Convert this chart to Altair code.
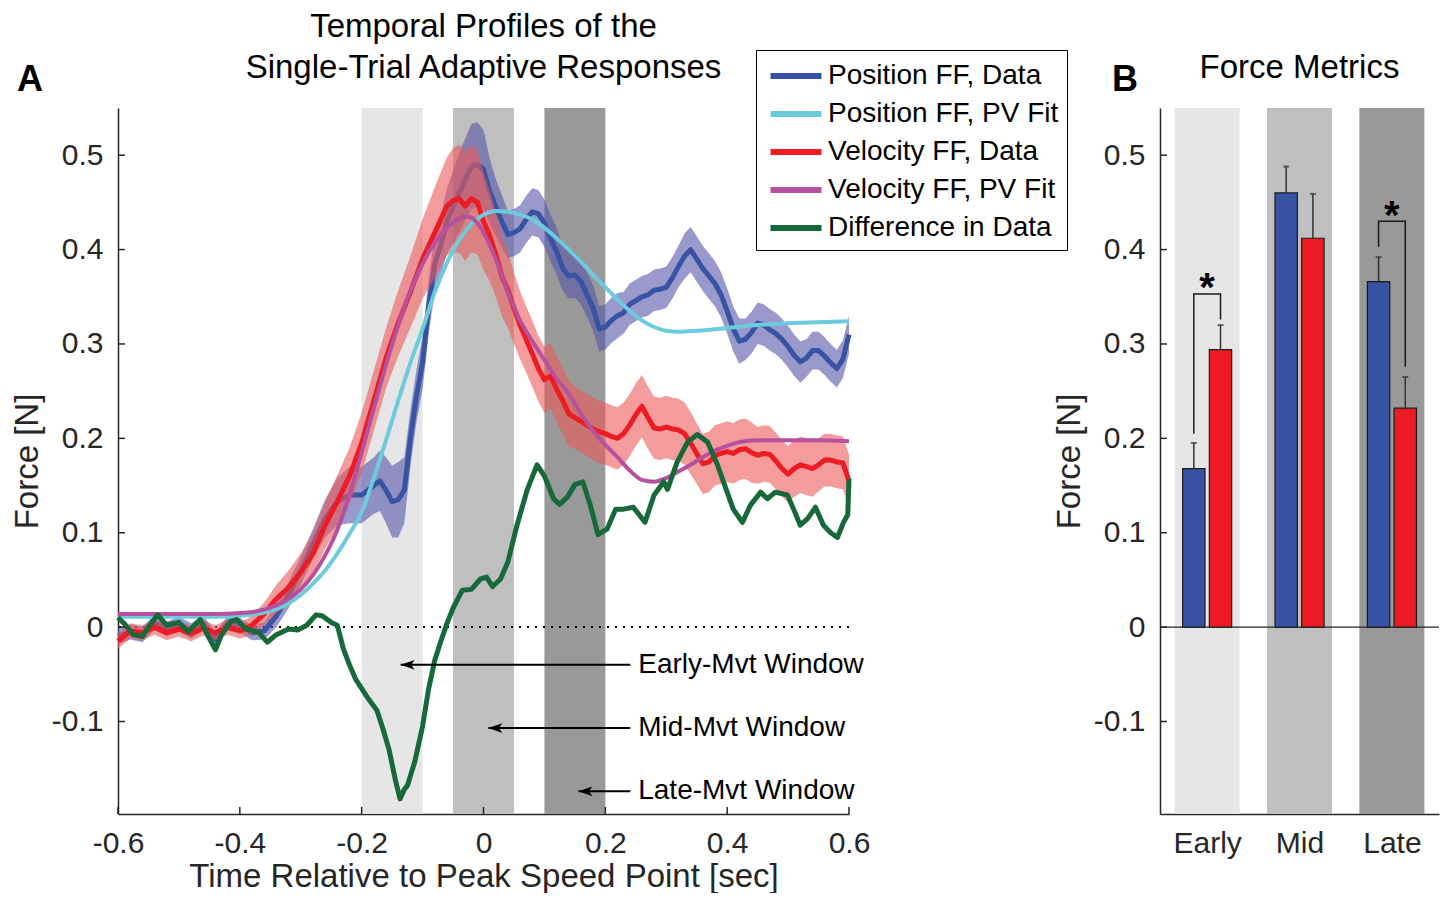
import json
import altair as alt
import pandas as pd

FONT = "Liberation Sans"
INK = "#262626"

# ---------------- Panel A data ----------------
pos_t = [-0.60, -0.58, -0.56, -0.54, -0.52, -0.50, -0.48, -0.46, -0.44, -0.42,
         -0.40, -0.38, -0.36, -0.34, -0.32, -0.30, -0.28, -0.26, -0.24, -0.22,
         -0.20, -0.18, -0.17, -0.16, -0.15, -0.14, -0.13, -0.12, -0.11, -0.10,
         -0.09, -0.08, -0.07, -0.06, -0.04, -0.02, -0.01, 0.00, 0.01, 0.02,
         0.03, 0.04, 0.05, 0.06, 0.07, 0.08, 0.09, 0.10, 0.11, 0.12,
         0.13, 0.14, 0.15, 0.16, 0.17, 0.18, 0.19, 0.20, 0.21, 0.22,
         0.23, 0.24, 0.25, 0.26, 0.27, 0.28, 0.29, 0.30, 0.31, 0.32,
         0.33, 0.34, 0.35, 0.36, 0.37, 0.38, 0.39, 0.40, 0.41, 0.42,
         0.43, 0.44, 0.45, 0.46, 0.47, 0.48, 0.49, 0.50, 0.51, 0.52,
         0.53, 0.54, 0.55, 0.56, 0.57, 0.58, 0.59, 0.60]
pos_v = [-0.010, -0.005, -0.008, 0.005, -0.002, 0.003, -0.004, 0.004, -0.013, 0.004,
         0.002, -0.006, -0.004, 0.012, 0.034, 0.060, 0.088, 0.115, 0.133, 0.140,
         0.140, 0.150, 0.155, 0.145, 0.133, 0.135, 0.145, 0.200, 0.245, 0.280,
         0.340, 0.385, 0.405, 0.430, 0.460, 0.488, 0.490, 0.485, 0.462, 0.445,
         0.430, 0.416, 0.418, 0.422, 0.432, 0.440, 0.438, 0.428, 0.412, 0.398,
         0.380, 0.372, 0.373, 0.366, 0.352, 0.338, 0.316, 0.318, 0.325, 0.330,
         0.333, 0.342, 0.346, 0.350, 0.352, 0.357, 0.358, 0.360, 0.370, 0.382,
         0.393, 0.400, 0.390, 0.380, 0.372, 0.364, 0.352, 0.335, 0.316, 0.303,
         0.305, 0.312, 0.322, 0.320, 0.315, 0.311, 0.305, 0.297, 0.288, 0.281,
         0.285, 0.293, 0.293, 0.287, 0.280, 0.274, 0.284, 0.310]
pos_se = [0.008, 0.008, 0.008, 0.008, 0.008, 0.008, 0.008, 0.008, 0.008, 0.008,
          0.008, 0.008, 0.009, 0.012, 0.014, 0.015, 0.016, 0.020, 0.025, 0.030,
          0.030, 0.030, 0.032, 0.035, 0.038, 0.040, 0.035, 0.030, 0.028, 0.028,
          0.030, 0.030, 0.030, 0.035, 0.042, 0.045, 0.045, 0.042, 0.035, 0.030,
          0.028, 0.025, 0.025, 0.025, 0.025, 0.025, 0.025, 0.025, 0.025, 0.025,
          0.024, 0.024, 0.024, 0.024, 0.024, 0.024, 0.024, 0.024, 0.024, 0.024,
          0.022, 0.022, 0.022, 0.022, 0.022, 0.022, 0.022, 0.022, 0.022, 0.022,
          0.024, 0.024, 0.024, 0.024, 0.024, 0.024, 0.024, 0.024, 0.024, 0.024,
          0.022, 0.022, 0.022, 0.022, 0.022, 0.022, 0.022, 0.022, 0.022, 0.022,
          0.020, 0.020, 0.020, 0.020, 0.020, 0.020, 0.020, 0.020]

vel_t = [-0.60, -0.58, -0.56, -0.54, -0.52, -0.50, -0.48, -0.46, -0.44, -0.42,
         -0.40, -0.38, -0.36, -0.34, -0.32, -0.30, -0.28, -0.26, -0.24, -0.22,
         -0.20, -0.18, -0.16, -0.14, -0.12, -0.10, -0.08, -0.06,
         -0.05, -0.04, -0.03, -0.02, -0.01, 0.00, 0.01, 0.02, 0.03, 0.04,
         0.05, 0.06, 0.07, 0.08, 0.09, 0.10, 0.11, 0.12, 0.13, 0.14,
         0.15, 0.16, 0.17, 0.18, 0.19, 0.20, 0.21, 0.22, 0.23, 0.24,
         0.25, 0.26, 0.27, 0.28, 0.29, 0.30, 0.31, 0.32, 0.33, 0.34,
         0.35, 0.36, 0.37, 0.38, 0.39, 0.40, 0.41, 0.42, 0.43, 0.44,
         0.45, 0.46, 0.47, 0.48, 0.49, 0.50, 0.51, 0.52, 0.53, 0.54,
         0.55, 0.56, 0.57, 0.58, 0.59, 0.60]
vel_v = [-0.015, -0.004, -0.006, 0.000, -0.006, -0.002, -0.007, -0.001, -0.006, 0.000,
         -0.004, 0.002, 0.014, 0.030, 0.042, 0.058, 0.078, 0.108, 0.133, 0.160,
         0.195, 0.240, 0.285, 0.322, 0.355, 0.390, 0.418, 0.446,
         0.452, 0.454, 0.446, 0.454, 0.450, 0.430, 0.415, 0.395, 0.372, 0.357,
         0.338, 0.320, 0.305, 0.290, 0.274, 0.262, 0.266, 0.252, 0.240, 0.226,
         0.222, 0.218, 0.214, 0.210, 0.207, 0.205, 0.202, 0.200, 0.205, 0.214,
         0.225, 0.234, 0.222, 0.211, 0.210, 0.212, 0.210, 0.209, 0.205, 0.195,
         0.184, 0.173, 0.175, 0.182, 0.184, 0.186, 0.184, 0.188, 0.189, 0.185,
         0.182, 0.184, 0.183, 0.176, 0.168, 0.162, 0.168, 0.172, 0.170, 0.168,
         0.172, 0.177, 0.177, 0.175, 0.174, 0.155]
vel_se = [0.008, 0.008, 0.008, 0.008, 0.008, 0.008, 0.008, 0.008, 0.008, 0.008,
          0.008, 0.010, 0.012, 0.015, 0.018, 0.020, 0.022, 0.025, 0.028, 0.030,
          0.032, 0.032, 0.032, 0.035, 0.038, 0.042, 0.048, 0.052,
          0.055, 0.057, 0.058, 0.057, 0.055, 0.052, 0.048, 0.045, 0.042, 0.040,
          0.038, 0.036, 0.035, 0.035, 0.035, 0.035, 0.035, 0.035, 0.035, 0.035,
          0.033, 0.033, 0.033, 0.033, 0.033, 0.033, 0.033, 0.033, 0.033, 0.033,
          0.033, 0.033, 0.033, 0.033, 0.033, 0.033, 0.033, 0.033, 0.033, 0.033,
          0.032, 0.032, 0.032, 0.032, 0.032, 0.032, 0.032, 0.032, 0.032, 0.032,
          0.030, 0.030, 0.030, 0.030, 0.030, 0.030, 0.030, 0.030, 0.030, 0.030,
          0.028, 0.028, 0.028, 0.028, 0.028, 0.028]

pfit_t = [-0.60, -0.50, -0.44, -0.40, -0.37, -0.34, -0.32, -0.30, -0.28, -0.26,
          -0.24, -0.22, -0.20, -0.18, -0.16, -0.14, -0.12, -0.10, -0.08, -0.06,
          -0.04, -0.02, 0.00, 0.02, 0.04, 0.06, 0.08, 0.10, 0.12, 0.14,
          0.16, 0.18, 0.20, 0.22, 0.24, 0.26, 0.28, 0.30, 0.32, 0.35,
          0.40, 0.45, 0.50, 0.55, 0.60]
pfit_v = [0.011, 0.011, 0.011, 0.012, 0.014, 0.019, 0.025, 0.034, 0.046, 0.060,
          0.078, 0.099, 0.122, 0.158, 0.198, 0.240, 0.280, 0.316, 0.355, 0.386,
          0.410, 0.427, 0.437, 0.441, 0.440, 0.437, 0.432, 0.423, 0.412, 0.400,
          0.387, 0.373, 0.360, 0.347, 0.335, 0.325, 0.318, 0.314, 0.313, 0.314,
          0.317, 0.320, 0.322, 0.323, 0.324]

vfit_t = [-0.60, -0.50, -0.44, -0.40, -0.37, -0.34, -0.32, -0.30, -0.28, -0.26,
          -0.24, -0.22, -0.20, -0.18, -0.16, -0.14, -0.12, -0.10, -0.08, -0.06,
          -0.04, -0.03, -0.02, -0.01, 0.00, 0.02, 0.04, 0.06, 0.08, 0.10,
          0.12, 0.14, 0.16, 0.18, 0.20, 0.22, 0.24, 0.26, 0.28, 0.30,
          0.32, 0.34, 0.36, 0.38, 0.40, 0.42, 0.45, 0.50, 0.55, 0.60]
vfit_v = [0.014, 0.014, 0.014, 0.015, 0.017, 0.023, 0.030, 0.040, 0.055, 0.076,
          0.103, 0.140, 0.185, 0.232, 0.278, 0.320, 0.356, 0.385, 0.407, 0.423,
          0.433, 0.435, 0.434, 0.428, 0.418, 0.390, 0.355, 0.325, 0.303, 0.283,
          0.263, 0.247, 0.226, 0.208, 0.193, 0.180, 0.166, 0.156, 0.154, 0.158,
          0.165, 0.172, 0.180, 0.187, 0.192, 0.196, 0.198, 0.198, 0.198, 0.197]

diff_t = [-0.600, -0.590, -0.580, -0.575, -0.560, -0.550, -0.535, -0.520, -0.500, -0.485,
          -0.465, -0.455, -0.440, -0.430, -0.415, -0.405, -0.390, -0.370, -0.355, -0.340,
          -0.320, -0.305, -0.290, -0.275, -0.265, -0.250, -0.240, -0.230, -0.220, -0.210,
          -0.190, -0.175, -0.165, -0.155, -0.145, -0.137, -0.130, -0.125, -0.113, -0.100,
          -0.090, -0.080, -0.070, -0.060, -0.050, -0.035, -0.020, -0.005, 0.005, 0.015,
          0.028, 0.040, 0.055, 0.072, 0.088, 0.100, 0.115, 0.125, 0.138, 0.150,
          0.163, 0.175, 0.188, 0.203, 0.217, 0.230, 0.246, 0.265, 0.280, 0.296,
          0.302, 0.318, 0.335, 0.351, 0.368, 0.384, 0.400, 0.410, 0.425, 0.438,
          0.455, 0.466, 0.479, 0.499, 0.509, 0.520, 0.532, 0.545, 0.558, 0.570,
          0.581, 0.591, 0.598, 0.600]
diff_v = [0.010, 0.004, -0.004, -0.008, -0.010, 0.000, 0.013, 0.002, 0.005, -0.005,
          0.008, -0.006, -0.024, -0.008, 0.006, 0.008, -0.002, -0.005, -0.016, -0.008,
          -0.002, -0.003, 0.002, 0.013, 0.012, 0.005, 0.002, -0.023, -0.040, -0.055,
          -0.075, -0.088, -0.108, -0.130, -0.161, -0.182, -0.172, -0.168, -0.143, -0.105,
          -0.065, -0.035, -0.015, 0.004, 0.020, 0.039, 0.040, 0.051, 0.053, 0.043,
          0.051, 0.069, 0.108, 0.146, 0.172, 0.160, 0.136, 0.130, 0.138, 0.151,
          0.154, 0.130, 0.098, 0.104, 0.125, 0.125, 0.127, 0.111, 0.140, 0.154,
          0.146, 0.175, 0.196, 0.204, 0.196, 0.172, 0.143, 0.125, 0.111, 0.129,
          0.143, 0.136, 0.143, 0.140, 0.125, 0.108, 0.115, 0.127, 0.108, 0.100,
          0.095, 0.111, 0.119, 0.157]

series_names = ["Position FF, Data", "Position FF, PV Fit", "Velocity FF, Data",
                "Velocity FF, PV Fit", "Difference in Data"]
series_colors = ["#3953a4", "#6ccbdc", "#ed1c24", "#b5519f", "#17693a"]

win_names = ["Early", "Mid", "Late"]
win_start = [-0.20, -0.05, 0.10]
win_end = [-0.10, 0.05, 0.20]
win_grays = ["#e6e6e6", "#bfbfbf", "#999999"]

note_text = ["Early-Mvt Window", "Mid-Mvt Window", "Late-Mvt Window"]
note_y = [-0.040, -0.107, -0.174]
note_tip = [-0.136, 0.008, 0.156]
note_tail = [0.241, 0.241, 0.241]
note_x = [0.254, 0.254, 0.254]

title_a = ["Temporal Profiles of the", "Single-Trial Adaptive Responses"]
title_a_y = [0.636, 0.592]
title_b = ["Force Metrics"]
title_b_y = [0.592]

x_ticks = [-0.6, -0.4, -0.2, 0.0, 0.2, 0.4, 0.6]
y_ticks = [-0.1, 0.0, 0.1, 0.2, 0.3, 0.4, 0.5]
X_DOMAIN = [-0.6, 0.6]
Y_DOMAIN = [-0.198, 0.55]

# ---------------- Panel B data ----------------
pos_bar = [0.168, 0.460, 0.366]
pos_err = [0.027, 0.028, 0.026]
vel_bar = [0.294, 0.412, 0.232]
vel_err = [0.026, 0.047, 0.033]
sig_win = ["Early", "Late"]
sig_top = [0.353, 0.430]
sig_left_foot = [0.205, 0.403]
sig_right_foot = [0.326, 0.276]
sig_star = [0.358, 0.435]

LABEL_EXPR = ("datum.value < 0 ? '-' + format(-datum.value, '.1~f') : "
              "format(datum.value, '.1~f')")

# ---------------- Panel A chart ----------------
xs = alt.Scale(domain=X_DOMAIN, nice=False, zero=False)
ys = alt.Scale(domain=Y_DOMAIN, nice=False, zero=False)
x_axis = alt.Axis(values=x_ticks, labelExpr=LABEL_EXPR, labelFlush=False,
                  title="Time Relative to Peak Speed Point [sec]",
                  labelPadding=14, titlePadding=2)
y_axis = alt.Axis(values=y_ticks, labelExpr=LABEL_EXPR, title="Force [N]",
                  labelPadding=15, titlePadding=7)


def X(f="t"):
    return alt.X(f"{f}:Q", scale=xs, axis=x_axis)


def Y(f="v"):
    return alt.Y(f"{f}:Q", scale=ys, axis=y_axis)


legend = alt.Legend(title=None, orient="none", legendX=638, legendY=-58,
                    direction="vertical", symbolType="M-1.7,0L1.7,0", symbolSize=900,
                    symbolStrokeWidth=6, symbolOffset=14, labelFontSize=28, labelFont=FONT,
                    labelColor="black", labelLimit=500, strokeColor="black",
                    fillColor="white", padding=8, rowPadding=6, labelOffset=14)
color = alt.Color("series:N", scale=alt.Scale(domain=series_names, range=series_colors),
                  legend=legend)


def frame(t, v, name, se=None):
    d = pd.DataFrame({"t": t, "v": v})
    d["series"] = name
    if se is not None:
        d["lo"] = d["v"] - pd.Series(se)
        d["hi"] = d["v"] + pd.Series(se)
    return d


pos_df = frame(pos_t, pos_v, series_names[0], pos_se)
pfit_df = frame(pfit_t, pfit_v, series_names[1])
vel_df = frame(vel_t, vel_v, series_names[2], vel_se)
vfit_df = frame(vfit_t, vfit_v, series_names[3])
diff_df = frame(diff_t, diff_v, series_names[4])

win_df = pd.DataFrame({"win": win_names, "start": win_start, "end": win_end})
zero_df = pd.DataFrame({"v": [0.0]})
note_df = pd.DataFrame({"text": note_text, "y": note_y, "tip": note_tip,
                        "tail": note_tail, "tx": note_x})
xt_df = pd.DataFrame({"t": x_ticks})
yt_df = pd.DataFrame({"v": y_ticks})
ta_df = pd.DataFrame({"line": title_a, "v": title_a_y, "t": [0.0, 0.0]})

windows = alt.Chart(win_df).mark_rect().encode(
    x=X("start"), x2="end:Q",
    y=alt.YDatum(Y_DOMAIN[0], scale=ys, axis=y_axis), y2=alt.Y2Datum(Y_DOMAIN[1]),
    fill=alt.Fill("win:N", scale=alt.Scale(domain=win_names, range=win_grays), legend=None),
)
zero_line = alt.Chart(zero_df).mark_rule(color="black", strokeWidth=2, strokeDash=[2, 6]).encode(
    y=Y("v"))

band_pos = alt.Chart(pos_df).mark_area(color="#5555aa", opacity=0.6).encode(
    x=X(), y=Y("lo"), y2="hi:Q")
band_vel = alt.Chart(vel_df).mark_area(color="#ed5858", opacity=0.6).encode(
    x=X(), y=Y("lo"), y2="hi:Q")


def line(df, width, interp="linear"):
    return alt.Chart(df).mark_line(strokeWidth=width, strokeJoin="round",
                                   interpolate=interp).encode(x=X(), y=Y(), color=color)


arrows = alt.Chart(note_df).mark_rule(color="black", strokeWidth=2).encode(
    x=X("tail"), x2="tip:Q", y=Y("y"))
heads = alt.Chart(note_df).mark_point(shape="M0,0 L2,-0.7 L1.5,0 L2,0.7 Z", size=196,
                                      filled=True, color="black", opacity=1).encode(
    x=X("tip"), y=Y("y"))
notes = alt.Chart(note_df).mark_text(align="left", baseline="middle", fontSize=28,
                                     font=FONT, color="black").encode(
    x=X("tx"), y=Y("y"), text="text:N")
xticks_in = alt.Chart(xt_df).mark_rule(color=INK, strokeWidth=1.5, y2Offset=-7).encode(
    x=X("t"), y=alt.YDatum(Y_DOMAIN[0], scale=ys, axis=y_axis), y2=alt.Y2Datum(Y_DOMAIN[0]))
yticks_in = alt.Chart(yt_df).mark_rule(color=INK, strokeWidth=1.5, x2Offset=7).encode(
    y=Y("v"), x=alt.XDatum(X_DOMAIN[0], scale=xs, axis=x_axis), x2=alt.X2Datum(X_DOMAIN[0]))
letter_a = alt.Chart(pd.DataFrame({"lab": ["A"]})).mark_text(
    fontSize=36, fontWeight="bold", font=FONT, color="black", dx=-88, baseline="middle").encode(
    x=alt.XDatum(X_DOMAIN[0], scale=xs, axis=x_axis),
    y=alt.YDatum(0.58, scale=ys, axis=y_axis), text="lab:N")
title_left = alt.Chart(ta_df).mark_text(fontSize=33, font=FONT, color="black",
                                        baseline="middle", align="center").encode(
    x=X("t"), y=Y("v"), text="line:N")

left = alt.layer(
    windows, zero_line, band_pos, line(pos_df, 5), band_vel, line(vel_df, 5),
    line(pfit_df, 4, "monotone"), line(vfit_df, 4, "monotone"), line(diff_df, 5),
    arrows, heads, notes, xticks_in, yticks_in, letter_a, title_left,
).properties(width=731, height=706)

# ---------------- Panel B chart ----------------
BAND_HALF = 0.352
BAR_SPAN = {"Position FF": (-0.265, -0.023), "Velocity FF": (0.024, 0.266)}
bar_rows = []
for i, w in enumerate(win_names):
    for s, vals, errs in (("Position FF", pos_bar, pos_err), ("Velocity FF", vel_bar, vel_err)):
        lo, hi = BAR_SPAN[s]
        bar_rows.append({"win": w, "series": s, "x1": i + 1 + lo, "x2": i + 1 + hi,
                         "xc": i + 1 + (lo + hi) / 2, "v": vals[i], "up": vals[i] + errs[i]})
bar_df = pd.DataFrame(bar_rows)
rband_df = pd.DataFrame({"win": win_names,
                         "x1": [i + 1 - BAND_HALF for i in range(3)],
                         "x2": [i + 1 + BAND_HALF for i in range(3)]})
br_rows = []
star_rows = []
for w, top, lf, rf, st in zip(sig_win, sig_top, sig_left_foot, sig_right_foot, sig_star):
    i = win_names.index(w)
    bc = i + 1 + sum(BAR_SPAN["Position FF"]) / 2
    rc = i + 1 + sum(BAR_SPAN["Velocity FF"]) / 2
    for k, (xx, yy) in enumerate([(bc, lf), (bc, top), (rc, top), (rc, rf)]):
        br_rows.append({"win": w, "k": k, "x": xx, "y": yy})
    star_rows.append({"x": i + 1, "y": st, "s": "*"})
br_df = pd.DataFrame(br_rows)
star_df = pd.DataFrame(star_rows)
tb_df = pd.DataFrame({"line": title_b, "v": title_b_y, "x": [2.0]})

RX_DOMAIN = [0.49, 3.51]
rxs = alt.Scale(domain=RX_DOMAIN, nice=False, zero=False)
rx_axis = alt.Axis(values=[1, 2, 3], labelExpr=f"{json.dumps(win_names)}[datum.value - 1]",
                   title=None, labelPadding=14, labelFlush=False)


def RX(f):
    return alt.X(f"{f}:Q", scale=rxs, axis=rx_axis)


rbands = alt.Chart(rband_df).mark_rect().encode(
    x=RX("x1"), x2="x2:Q",
    y=alt.YDatum(Y_DOMAIN[0], scale=ys, axis=y_axis), y2=alt.Y2Datum(Y_DOMAIN[1]),
    fill=alt.Fill("win:N", scale=alt.Scale(domain=win_names, range=win_grays), legend=None))
rzero = alt.Chart(zero_df).mark_rule(color=INK, strokeWidth=1.2).encode(y=Y("v"))
bars = alt.Chart(bar_df).mark_bar(stroke="#1a1a1a", strokeWidth=1.2).encode(
    x=RX("x1"), x2="x2:Q", y=Y("v"), y2=alt.Y2Datum(0),
    color=alt.Color("series:N", scale=alt.Scale(domain=["Position FF", "Velocity FF"],
                                                range=["#3953a4", "#ed1c24"]), legend=None))
err = alt.Chart(bar_df).mark_rule(color="#333333", strokeWidth=1.5).encode(
    x=RX("xc"), y=Y("v"), y2="up:Q")
caps = alt.Chart(bar_df).mark_tick(orient="horizontal", size=6, thickness=2, color="#333333").encode(
    x=RX("xc"), y=Y("up"))
brackets = alt.Chart(br_df).mark_line(color="#1a1a1a", strokeWidth=1.5).encode(
    x=RX("x"), y=Y("y"), detail="win:N", order="k:Q")
stars = alt.Chart(star_df).mark_text(fontSize=40, fontWeight="bold", font=FONT,
                                     color="black", baseline="middle").encode(
    x=RX("x"), y=Y("y"), text="s:N")
ryticks_in = alt.Chart(yt_df).mark_rule(color=INK, strokeWidth=1.5, x2Offset=7).encode(
    y=Y("v"), x=alt.XDatum(RX_DOMAIN[0], scale=rxs, axis=rx_axis), x2=alt.X2Datum(RX_DOMAIN[0]))
letter_b = alt.Chart(pd.DataFrame({"lab": ["B"]})).mark_text(
    fontSize=36, fontWeight="bold", font=FONT, color="black", dx=-35, baseline="middle").encode(
    x=alt.XDatum(RX_DOMAIN[0], scale=rxs, axis=rx_axis),
    y=alt.YDatum(0.58, scale=ys, axis=y_axis), text="lab:N")
title_right = alt.Chart(tb_df).mark_text(fontSize=33, font=FONT, color="black",
                                         baseline="middle", align="center").encode(
    x=RX("x"), y=Y("v"), text="line:N")

right = alt.layer(
    rbands, rzero, bars, err, caps, brackets, stars, ryticks_in, letter_b, title_right
).properties(width=279, height=706)

chart = alt.hconcat(
    left, right, spacing=311, bounds="flush",
    padding={"left": 3, "top": 2, "right": 0, "bottom": 0},
).resolve_scale(
    color="independent", fill="independent"
).configure(font=FONT).configure_view(stroke=None).configure_axis(
    grid=False, ticks=False, tickSize=0, domainColor=INK, domainWidth=1.5,
    labelColor=INK, labelFont=FONT, labelFontSize=30, titleFont=FONT,
    titleFontSize=33, titleFontWeight="normal", titleColor=INK,
)

chart.save("out.html", embed_options={"renderer": "svg", "actions": False})
